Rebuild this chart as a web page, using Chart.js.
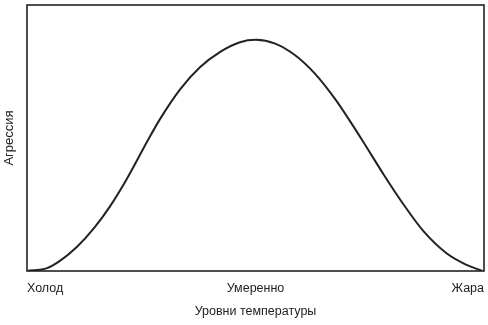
<!DOCTYPE html>
<html lang="ru">
<head>
<meta charset="utf-8">
<title>Агрессия и температура</title>
<script src="https://cdn.jsdelivr.net/npm/chart.js@4.4.1/dist/chart.umd.min.js"></script>
<style>
  html, body { margin: 0; padding: 0; background: #fff; }
  canvas { display: block; }
</style>
</head>
<body>
<canvas id="chart" width="488" height="325"></canvas>
<script>
// Curve (x: 0..100 temperature scale, y: 0..100 aggression)
const tempX = [0, 4.4, 7.2, 10.9, 14.7, 18.2, 21.9, 26.6, 29.1, 33.5, 37.9, 42.2, 46.6, 50.1,
               54.3, 58.6, 63, 67.4, 71, 73.6, 78, 82.4, 86.7, 91.8, 96.2, 98.4, 99.6];
const aggression = [0, 1.1, 3.8, 9, 16.2, 24.4, 34.8, 49.6, 57.1, 68.3, 76.7, 82.3, 86, 86.9,
                    85.5, 81.2, 74.2, 64.7, 55.5, 48.5, 36.4, 25, 15.1, 6.7, 2.3, 0.8, 0];

// Tick labels on the x axis
const tickValues = [0, 50, 100];
const tickLabels = ["Холод", "Умеренно", "Жара"];

const xTitle = "Уровни температуры";
const yTitle = "Агрессия";

const INK = "#222";
const FAMILY = "'Liberation Sans', Arial, sans-serif";

// Draw a box round the plot area
const framePlugin = {
  id: "frame",
  afterDatasetsDraw(chart) {
    const { ctx, chartArea: a } = chart;
    ctx.save();
    ctx.strokeStyle = INK;
    ctx.lineWidth = 1.6;
    ctx.strokeRect(a.left, a.top, a.right - a.left, a.bottom - a.top);
    ctx.restore();
  }
};

new Chart(document.getElementById("chart"), {
  type: "line",
  data: {
    datasets: [{
      data: tempX.map((x, i) => ({ x, y: aggression[i] })),
      borderColor: INK,
      borderWidth: 2,
      pointRadius: 0,
      fill: false,
      cubicInterpolationMode: "monotone"
    }]
  },
  options: {
    responsive: false,
    animation: false,
    devicePixelRatio: 1,
    layout: { padding: { top: 5, right: 4, left: 0, bottom: 0 } },
    plugins: { legend: { display: false }, tooltip: { enabled: false } },
    scales: {
      x: {
        type: "linear",
        min: 0,
        max: 100,
        grid: { display: false, drawTicks: true, tickLength: 6 },
        border: { display: false },
        afterBuildTicks: s => { s.ticks = tickValues.map(v => ({ value: v })); },
        afterFit: s => { s.height = 54; },
        ticks: {
          align: "inner",
          maxRotation: 0,
          padding: 4,
          color: INK,
          font: { family: FAMILY, size: 12.5 },
          callback: v => tickLabels[tickValues.indexOf(v)] ?? ""
        },
        title: {
          display: true,
          text: xTitle,
          color: INK,
          font: { family: FAMILY, size: 12.5 },
          padding: { top: 0, bottom: 6 }
        }
      },
      y: {
        min: 0,
        max: 100,
        grid: { display: false, drawTicks: false },
        border: { display: false },
        ticks: { display: false },
        afterFit: s => { s.width = 27; },
        title: {
          display: true,
          text: yTitle,
          color: INK,
          font: { family: FAMILY, size: 13 },
          padding: { top: 2, bottom: 0 }
        }
      }
    }
  },
  plugins: [framePlugin]
});
</script>
</body>
</html>
